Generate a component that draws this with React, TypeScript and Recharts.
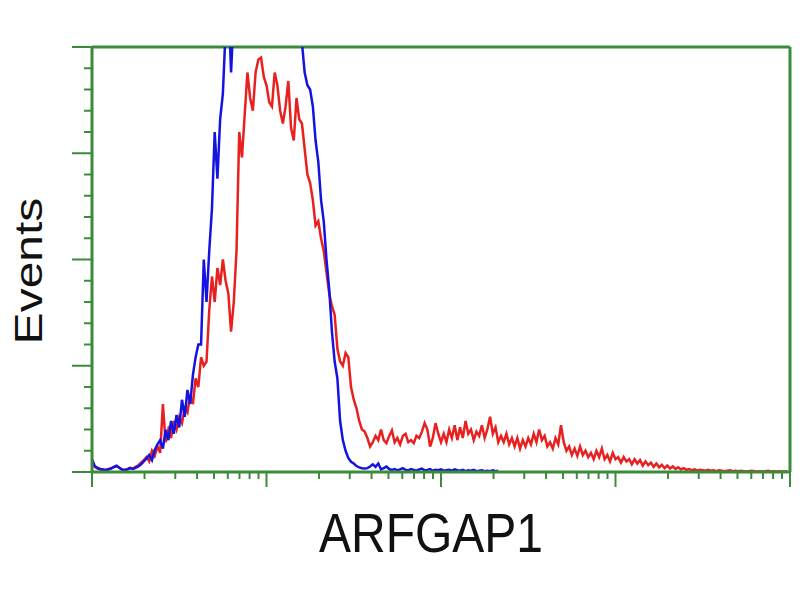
import { LineChart, Line, XAxis, YAxis, ReferenceLine } from "recharts"

// events per channel, 256 log channels across 4 decades (0-100 scale)
const redEvents = [
  2.5, 1.2, 0.8, 0.6, 0.5, 0.5, 0.7, 0.9, 1.1, 1.4, 1, 0.6, 0.5, 0.7, 1, 0.8, 1.2, 1.6, 2.2,
  2.8, 3.5, 2.5, 5, 3.8, 6, 4.5, 16, 7, 10, 8,
  12, 10, 13, 11.5, 15, 14, 18, 16, 22, 20, 27, 25,
  26, 38, 46, 40, 48, 44, 50, 45, 42, 33, 40,
  52, 80, 74, 84, 94, 88, 85, 94, 97, 97.5, 93,
  91, 87, 86, 94, 91, 85, 82, 86, 92, 81, 78, 88, 83,
  82, 76, 70, 68, 64, 58, 59, 55, 52, 47, 42, 39, 37,
  29, 26, 25, 28, 27, 20, 17, 15, 12, 10, 9.5, 8,
  6, 7, 8.5, 7.5, 10, 7.5, 6.8, 8.5, 9.8, 7, 8, 6.5,
  8.5, 9, 7, 7.5, 6.8, 8.5, 8, 9.5, 11.5, 10, 6, 8, 11.5, 9, 7, 9,
  7, 10, 8, 11, 7.5, 10.5, 8, 12, 9, 10, 7.5, 9.5, 8.5, 11, 8, 10, 13, 9, 10.5, 7,
  8.5, 7, 9, 6.5, 8, 6, 8, 5.5, 7.5, 6, 8, 6.5, 9, 7, 10, 7.5, 8.5, 6, 7, 5.5,
  8, 6.5, 11, 7, 5, 6, 4, 5.5, 3.8, 6, 4, 5, 3.5, 4.5, 3, 5, 3.5, 5.5, 3, 4,
  2.5, 4.5, 3, 3.5, 2.2, 3.5, 2.5, 3, 1.8, 3, 2, 2.8, 1.5, 2.5, 1.6, 2.2, 1.2, 2, 1.1, 1.7,
  0.9, 1.5, 0.8, 1.3, 0.7, 1.1, 0.6, 0.9, 0.5, 0.7,
  0.4, 0.6, 0.3, 0.5, 0.4, 0.3, 0.5, 0.3, 0.4, 0.2, 0.4, 0.3, 0.2, 0.3, 0.4, 0.2, 0.3, 0.2,
  0.3, 0.2, 0.1, 0.2, 0.3, 0.2, 0.1, 0.2, 0.1, 0.2, 0.3, 0.1, 0.2, 0.1, 0.2, 0.1, 0.1, 0.2,
]

const blueEvents = [
  3, 1.4, 1, 0.7, 0.6, 0.5, 0.6, 0.8, 1.2, 1.5,
  1, 0.6, 0.5, 0.6, 0.9, 0.7, 1, 1.3, 1.8, 2.5,
  3.2, 4, 2.8, 5.2, 6.5, 7.5, 5.5, 9.9, 7.5, 12,
  9, 13.4, 10.5, 17, 13, 19.3, 16, 22.8, 27, 30,
  30, 50, 40, 52, 62, 80, 69, 83, 89, 104,
  112, 94, 108,
  118, 124, 128, 126, 130, 127, 131, 129, 126, 128, 124, 127,
  122, 125, 120, 118, 121, 116, 114, 112, 110, 108, 106, 104,
  101, 94, 91, 90, 86, 78, 73, 64, 59, 50, 43, 33, 26, 22, 12, 7.5, 5, 3.3, 2.4,
  2, 1.4, 1.1, 0.9, 0.8, 0.9, 1.3, 1.8, 1.2, 2, 0.6, 0.9, 1.3, 0.7,
  0.5, 0.7, 0.4, 0.6, 0.9, 0.5, 0.4, 0.7, 0.5, 0.3, 0.6, 0.8, 0.4, 0.5, 0.7, 0.3, 0.5, 0.4, 0.6, 0.3,
  0.4, 0.5, 0.3, 0.6, 0.4, 0.3, 0.5, 0.2, 0.4, 0.3, 0.5, 0.2, 0.3, 0.4, 0.2, 0.3, 0.2, 0.4, 0.2, 0.3,
]

const CHANNELS = 256
const DECADES = 4

const majorX = [1, 10, 100, 1000, 10000]
const xTicks = [
  1, 2, 3, 4, 5, 6, 7, 8, 9,
  10, 20, 30, 40, 50, 60, 70, 80, 90,
  100, 200, 300, 400, 500, 600, 700, 800, 900,
  1000, 2000, 3000, 4000, 5000, 6000, 7000, 8000, 9000,
  10000,
]
const yTicks = [0, 5, 10, 15, 20, 25, 30, 35, 40, 45, 50, 55, 60, 65, 70, 75, 80, 85, 90, 95, 100]

const green = "#3a8c3a"

const chartData = redEvents.map((red, i) => ({
  fl: Math.pow(10, (i * DECADES) / CHANNELS),
  red,
  blue: blueEvents[i],
}))

function XTick({ x, y, payload }: any) {
  const major = majorX.includes(payload.value)
  return <line x1={x} y1={y} x2={x} y2={y + (major ? 15 : 7)} stroke={green} strokeWidth={2} />
}

function YTick({ x, y, payload }: any) {
  const major = payload.value % 25 === 0
  return <line x1={x} y1={y} x2={x - (major ? 20 : 8)} y2={y} stroke={green} strokeWidth={2} />
}

export default function App() {
  return (
    <div style={{ position: "absolute", left: 0, top: 0, width: 800, height: 600, background: "#fff" }}>
      <LineChart width={800} height={600} data={chartData} margin={{ top: 47, right: 10, bottom: 108, left: 72 }}>
        <XAxis
          dataKey="fl" type="number" scale="log" domain={[1, 10000]} allowDataOverflow
          ticks={xTicks} interval={0} tickSize={0} tickMargin={0} height={20}
          axisLine={{ stroke: green, strokeWidth: 3 }}
          tick={(p: any) => <XTick {...p} />}
        />
        <YAxis
          type="number" domain={[0, 100]} allowDataOverflow
          ticks={yTicks} interval={0} tickSize={0} tickMargin={0} width={20}
          axisLine={{ stroke: green, strokeWidth: 3 }}
          tick={(p: any) => <YTick {...p} />}
        />
        <ReferenceLine y={100} stroke={green} strokeWidth={3} />
        <ReferenceLine x={10000} stroke={green} strokeWidth={3} />
        <Line dataKey="red" stroke="#e82020" strokeWidth={2.5} dot={false} type="linear" isAnimationActive={false} />
        <Line dataKey="blue" stroke="#1414e0" strokeWidth={2.5} dot={false} type="linear" isAnimationActive={false} />
      </LineChart>

      <div style={{
        position: "absolute", left: 431, top: 533,
        transform: "translate(-50%, -50%) scale(1, 1.17)",
        fontFamily: "'Liberation Sans', Arial, sans-serif", fontSize: 48, lineHeight: 1,
        color: "#111", whiteSpace: "nowrap",
      }}>
        ARFGAP1
      </div>
      <div style={{
        position: "absolute", left: 29, top: 271,
        transform: "translate(-50%, -50%) scale(0.82, 1) rotate(-90deg)",
        fontFamily: "'Liberation Sans', Arial, sans-serif", fontSize: 48, lineHeight: 1,
        color: "#111", whiteSpace: "nowrap",
      }}>
        Events
      </div>
    </div>
  )
}
